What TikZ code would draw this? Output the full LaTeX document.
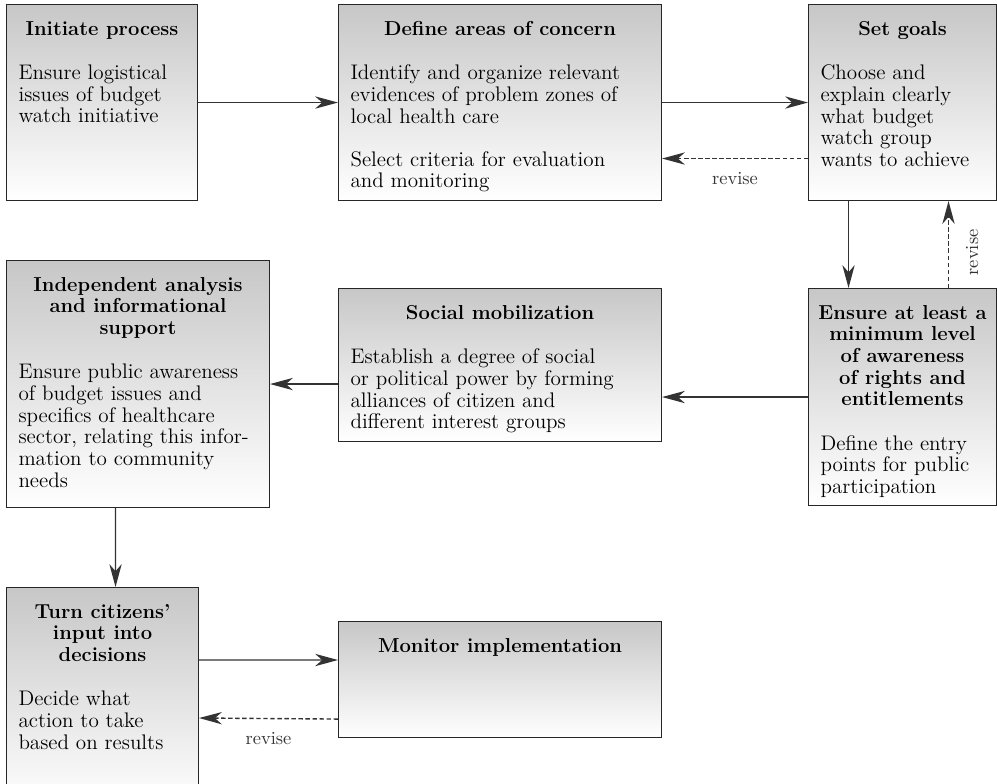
\documentclass[tikz,border=0pt]{standalone}
\usepackage{fontspec}
\usepackage{tikz}
\usetikzlibrary{arrows.meta,calc,positioning}
\tikzset{
  stage/.style     = {draw=black!85, line width=0.6pt, top color=black!22,
                      bottom color=white, inner xsep=0.24cm, inner ysep=0pt,
                      anchor=north west,
                      font=\fontsize{12}{12.3}\selectfont},
  flow/.style      = {-{Stealth[length=13pt,width=7pt,inset=4pt]},
                      line width=0.8pt, black!80},
  back/.style      = {-{Stealth[length=13pt,width=7pt,inset=4pt]},
                      line width=0.8pt, black!80, dash pattern=on 2.5pt off 1.5pt},
  revise/.style    = {font=\fontsize{10.5}{12}\selectfont, inner ysep=7.3pt},
}
% width, height, title, body
\newcommand{\stagetext}[4]{\parbox[c][#2][t]{#1}{\vspace*{9.5pt}%
  {\fontsize{11.5}{12.3}\selectfont\bfseries\centering
   \leftskip=-0.15cm plus 1fil \rightskip=-0.15cm plus 1fil
   #3\par}
  \vspace{13pt}\raggedright #4}}

\begin{document}
\begin{tikzpicture}
  \useasboundingbox (0,0) rectangle (19.94,-15.66);
  \clip (0,0) rectangle (19.94,-15.66);

  % top row
  \node[stage] (init) at (0.12,-0.08)
    {\stagetext{3.34cm}{3.92cm}{Initiate process}%
      {Ensure logistical\\issues of budget\\watch initiative}};
  \node[stage] (concern) at (6.76,-0.08)
    {\stagetext{5.98cm}{3.92cm}{Define areas of concern}%
      {Identify and organize relevant\\evidences of problem zones of\\local health care\par
       \vspace{12.2pt}Select criteria for evaluation\\and monitoring}};
  \node[stage] (goals) at (16.16,-0.08)
    {\stagetext{3.28cm}{3.92cm}{Set goals}%
      {Choose and\\explain clearly\\what budget\\watch group\\wants to achieve}};

  % middle row
  \node[stage] (aware) at (16.16,-5.76)
    {\stagetext{3.28cm}{4.34cm}{Ensure at least a\\minimum level\\of awareness\\of rights and\\entitlements}%
      {Define the entry\\points for public\\participation}};
  \node[stage] (mobil) at (6.76,-5.76)
    {\stagetext{5.98cm}{3.06cm}{Social mobilization}%
      {Establish a degree of social\\or political power by forming\\alliances of citizen and\\different interest groups}};
  \node[stage] (analysis) at (0.12,-5.20)
    {\stagetext{4.78cm}{4.94cm}{Independent analysis\\and informational\\support}%
      {Ensure public awareness\\of budget issues and\\specifics of healthcare\\sector, relating this infor-\\mation to community\\needs}};

  % bottom row
  \node[stage] (decide) at (0.12,-11.74)
    {\stagetext{3.36cm}{4.40cm}{Turn citizens'\\input into\\decisions}%
      {Decide what\\action to take\\based on results}};
  \node[stage] (monitor) at (6.76,-12.42)
    {\stagetext{5.98cm}{2.32cm}{Monitor implementation}{}};

  % connectors
  \draw[flow] (init.east) -- (concern.west);
  \draw[flow] (concern.east) -- (goals.west);
  \draw[back] ([yshift=-1.12cm]goals.west) -- ([yshift=-1.12cm]concern.east)
    node[revise, midway, anchor=north] {revise};
  \draw[flow] ([xshift=-1.08cm]goals.south) -- ([xshift=-1.08cm]aware.north);
  \draw[back] ([xshift=0.92cm]aware.north) -- ([xshift=0.92cm]goals.south)
    node[revise, pos=0.41, rotate=90, anchor=north, inner ysep=9.5pt] {revise};
  \draw[flow] (aware.west) -- (aware.west -| mobil.east);
  \draw[flow] (analysis.east -| mobil.west) -- (analysis.east);
  \draw[flow] ([xshift=-0.45cm]analysis.south) -- ([xshift=0.26cm]decide.north);
  \draw[flow] ([yshift=-1.46cm]decide.north east) -- ([yshift=-0.78cm]monitor.north west);
  \draw[back] ([yshift=0.38cm]monitor.south west) -- ([yshift=-2.62cm]decide.north east)
    node[revise, midway, anchor=north] {revise};
\end{tikzpicture}
\end{document}
